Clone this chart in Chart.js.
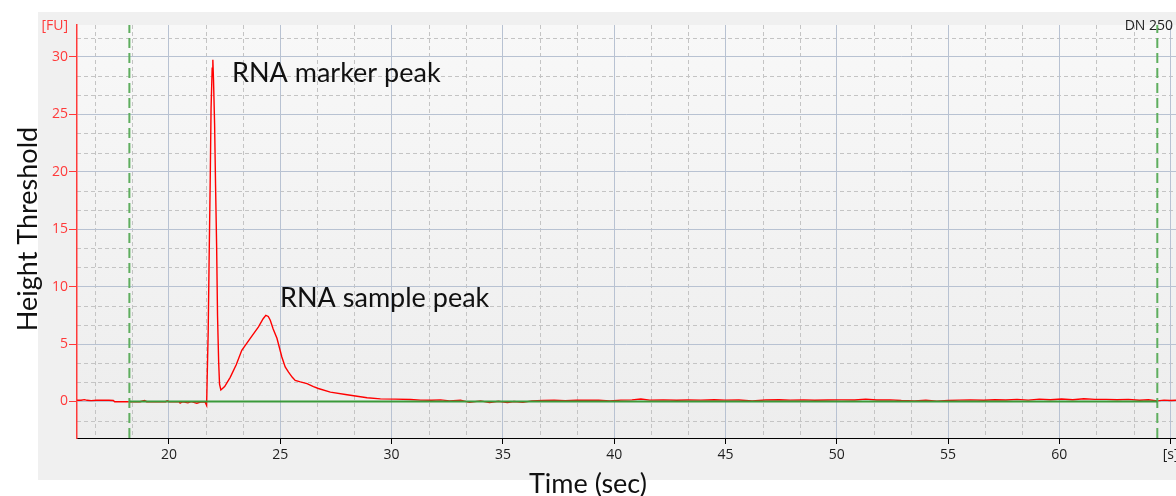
<!DOCTYPE html>
<html>
<head>
<meta charset="utf-8">
<script src="https://cdn.jsdelivr.net/npm/chart.js@4/dist/chart.umd.min.js"></script>
<style>
html,body{margin:0;padding:0;background:#fff;overflow:hidden;}
#wrap{position:relative;width:1176px;height:496px;}
</style>
</head>
<body>
<div id="wrap"><canvas id="c" width="1176" height="496"></canvas></div>
<script>
// ---- data ----
const traceTime = [
  15.87,16.05,16.20,16.32,16.50,16.75,17.00,17.30,17.50,17.56,
  18.10,18.70,18.90,19.00,19.85,19.92,20.00,20.45,20.50,20.62,
  20.85,21.00,21.25,21.45,21.62,21.69,21.72,21.76,21.80,21.85,
  21.89,21.94,21.97,22.00,22.05,22.09,22.14,22.18,22.23,22.27,
  22.33,22.50,22.75,23.02,23.27,23.65,24.02,24.23,24.35,24.46,
  24.55,24.68,24.85,25.07,25.22,25.37,25.54,25.67,25.90,26.20,
  26.49,26.71,27.25,28.00,28.90,29.50,30.17,30.85,
  31.30,31.80,32.20,32.60,33.10,33.50,34.00,34.40,34.80,35.20,
  35.50,35.90,36.30,36.80,37.30,37.80,38.30,38.80,39.30,39.80,
  40.30,40.80,41.20,41.60,42.20,42.80,43.30,43.90,44.50,45.00,
  45.60,46.20,46.80,47.40,47.90,48.50,49.00,49.60,50.20,50.80,
  51.30,51.80,52.40,52.90,53.50,54.00,54.50,55.00,55.50,56.00,
  56.60,57.10,57.60,58.10,58.60,59.10,59.60,60.10,60.60,61.10,
  61.60,62.10,62.60,63.10,63.60,64.00,64.40,64.70,65.00,65.24
];
const traceFU = [
  0.10,0.11,0.16,0.10,0.07,0.10,0.11,0.10,0.09,-0.02,
  -0.02,-0.02,0.08,-0.02,-0.02,0.06,-0.02,-0.02,-0.15,-0.02,
  -0.12,-0.02,-0.15,-0.03,-0.05,-0.35,2.5,6.0,12.0,19.0,
  25.5,29.0,29.75,28.0,24.0,19.0,13.5,7.5,3.5,1.5,
  1.0,1.3,2.1,3.2,4.45,5.5,6.5,7.2,7.5,7.4,
  7.07,6.3,5.5,3.87,3.0,2.56,2.1,1.83,1.7,1.55,
  1.3,1.13,0.81,0.58,0.32,0.23,0.20,0.17,
  0.12,0.10,0.14,0.05,0.10,-0.08,0.05,-0.10,0.02,-0.10,
  0.00,-0.08,0.05,0.08,0.12,0.06,0.12,0.10,0.12,0.04,
  0.12,0.14,0.22,0.12,0.14,0.10,0.13,0.12,0.15,0.12,
  0.13,0.05,0.13,0.15,0.12,0.14,0.11,0.13,0.14,0.13,
  0.20,0.13,0.14,0.08,0.05,0.10,0.02,0.08,0.12,0.14,
  0.10,0.15,0.13,0.18,0.12,0.20,0.15,0.22,0.15,0.24,
  0.18,0.18,0.15,0.18,0.10,0.15,0.05,0.12,0.08,0.10
];
const markerTimes = [18.22, 64.40];
const markerLabel = 'DN 250';
const xTicks = [20, 25, 30, 35, 40, 45, 50, 55, 60, 65];
const xTickLabels = ['20', '25', '30', '35', '40', '45', '50', '55', '60', '[s]'];
const yTicks = [0, 5, 10, 15, 20, 25, 30];
const yTickLabels = ['0', '5', '10', '15', '20', '25', '30'];
const xRange = [15.867, 65.24];
const yRange = [-3.18, 32.77];
const minorStep = 5 / 3;
const peakLabels = ['RNA marker peak', 'RNA sample peak'];
const peakLabelTime = [22.83, 24.99];
const peakLabelFU = [28.6, 9.0];
const xTitle = 'Time (sec)';
const yTitle = 'Height Threshold';
const yUnit = '[FU]';

// ---- styling ----
const RED = '#ff0000';
const AXIS_RED = '#ff3a3a';
const MAJOR = '#b8c2d2';
const MINOR = '#c4c4c4';
const MARK_GREEN = '#5fae5f';
const BASE_GREEN = '#3a9a3a';
const UI_FONT = "'Open Sans', 'DejaVu Sans', sans-serif";
const NOTE_FONT = "Lato, 'Open Sans', sans-serif";

const bgPlugin = {
  id: 'bg',
  beforeDraw(chart) {
    const {ctx, chartArea: a, scales: {x, y}} = chart;
    ctx.save();
    ctx.fillStyle = '#ffffff';
    ctx.fillRect(0, 0, chart.width, chart.height);
    ctx.fillStyle = '#f0f0f0';
    ctx.fillRect(38, 12, chart.width - 38, 468);
    const g = ctx.createLinearGradient(0, a.top, 0, a.bottom);
    g.addColorStop(0, '#f8f8f8');
    g.addColorStop(1, '#ededed');
    ctx.fillStyle = g;
    ctx.fillRect(a.left, a.top, a.right - a.left, a.bottom - a.top);
    // minor dashed grid
    ctx.strokeStyle = MINOR;
    ctx.lineWidth = 1;
    ctx.setLineDash([4, 3]);
    ctx.beginPath();
    for (let k = Math.ceil(xRange[0] / minorStep); k * minorStep <= xRange[1]; k++) {
      if (k % 3 === 0) continue;
      const px = Math.round(x.getPixelForValue(k * minorStep)) + 0.5;
      ctx.moveTo(px, a.top); ctx.lineTo(px, a.bottom);
    }
    for (let k = Math.ceil(yRange[0] / minorStep); k * minorStep <= yRange[1]; k++) {
      if (k % 3 === 0) continue;
      const py = Math.round(y.getPixelForValue(k * minorStep)) + 0.5;
      ctx.moveTo(a.left, py); ctx.lineTo(a.right, py);
    }
    ctx.stroke();
    ctx.restore();
  }
};

const textPlugin = {
  id: 'texts',
  afterDraw(chart) {
    const {ctx, chartArea: a, scales: {x, y}} = chart;
    ctx.save();
    ctx.textBaseline = 'middle';
    // unit label
    ctx.font = '14px ' + UI_FONT;
    ctx.fillStyle = AXIS_RED;
    ctx.textAlign = 'right';
    ctx.fillText(yUnit, 68, 26);
    // marker label
    ctx.fillStyle = '#1e1e1e';
    ctx.font = '14px ' + UI_FONT;
    ctx.textAlign = 'right';
    ctx.fillText(markerLabel, 1173, 26);
    // peak annotations
    ctx.fillStyle = '#111111';
    ctx.font = '27px ' + NOTE_FONT;
    ctx.textAlign = 'left';
    peakLabels.forEach((t, i) => {
      ctx.fillText(t, x.getPixelForValue(peakLabelTime[i]), y.getPixelForValue(peakLabelFU[i]));
    });
    // axis titles
    ctx.textAlign = 'center';
    ctx.fillText(xTitle, 588, 484);
    ctx.translate(28, 229);
    ctx.rotate(-Math.PI / 2);
    ctx.fillText(yTitle, 0, 0);
    ctx.restore();
  }
};

const toPts = (xs, ys) => xs.map((t, i) => ({x: t, y: ys[i]}));

new Chart(document.getElementById('c'), {
  type: 'line',
  data: {
    datasets: [
      {
        label: 'baseline',
        data: [{x: markerTimes[0], y: 0}, {x: markerTimes[1], y: 0}],
        borderColor: BASE_GREEN, borderWidth: 2, pointRadius: 0
      },
      {
        label: 'lower marker',
        data: [{x: markerTimes[0], y: yRange[0]}, {x: markerTimes[0], y: yRange[1]}],
        borderColor: MARK_GREEN, borderWidth: 2, borderDash: [10, 5], pointRadius: 0
      },
      {
        label: 'upper marker',
        data: [{x: markerTimes[1], y: yRange[0]}, {x: markerTimes[1], y: yRange[1]}],
        borderColor: MARK_GREEN, borderWidth: 2, borderDash: [10, 5], pointRadius: 0
      },
      {
        label: 'sample',
        data: toPts(traceTime, traceFU),
        borderColor: RED, borderWidth: 1.4, pointRadius: 0, tension: 0
      }
    ]
  },
  options: {
    responsive: false,
    animation: false,
    devicePixelRatio: 1,
    layout: {padding: {left: 0, right: 0, top: 25, bottom: 0}},
    plugins: {legend: {display: false}, tooltip: {enabled: false}},
    scales: {
      x: {
        type: 'linear',
        min: xRange[0], max: xRange[1],
        afterBuildTicks: s => { s.ticks = xTicks.map(v => ({value: v})); },
        afterFit: s => { s.height = 58; s.paddingLeft = 0; s.paddingRight = 0; },
        ticks: {
          autoSkip: false, maxRotation: 0, minRotation: 0, padding: 3,
          color: '#1e1e1e', font: {family: UI_FONT, size: 14},
          callback: v => xTickLabels[xTicks.indexOf(v)]
        },
        grid: {color: MAJOR, lineWidth: 1, tickLength: 6, tickColor: '#000000', tickWidth: 1},
        border: {color: '#000000', width: 1}
      },
      y: {
        type: 'linear',
        min: yRange[0], max: yRange[1],
        afterBuildTicks: s => { s.ticks = yTicks.map(v => ({value: v})); },
        afterFit: s => { s.width = 77; s.paddingTop = 0; s.paddingBottom = 0; },
        ticks: {
          padding: 1, color: AXIS_RED, font: {family: UI_FONT, size: 14},
          callback: v => yTickLabels[yTicks.indexOf(v)]
        },
        grid: {color: MAJOR, lineWidth: 1, tickLength: 8, tickColor: AXIS_RED, tickWidth: 1},
        border: {color: AXIS_RED, width: 1.5}
      }
    }
  },
  plugins: [bgPlugin, textPlugin]
});
</script>
</body>
</html>
